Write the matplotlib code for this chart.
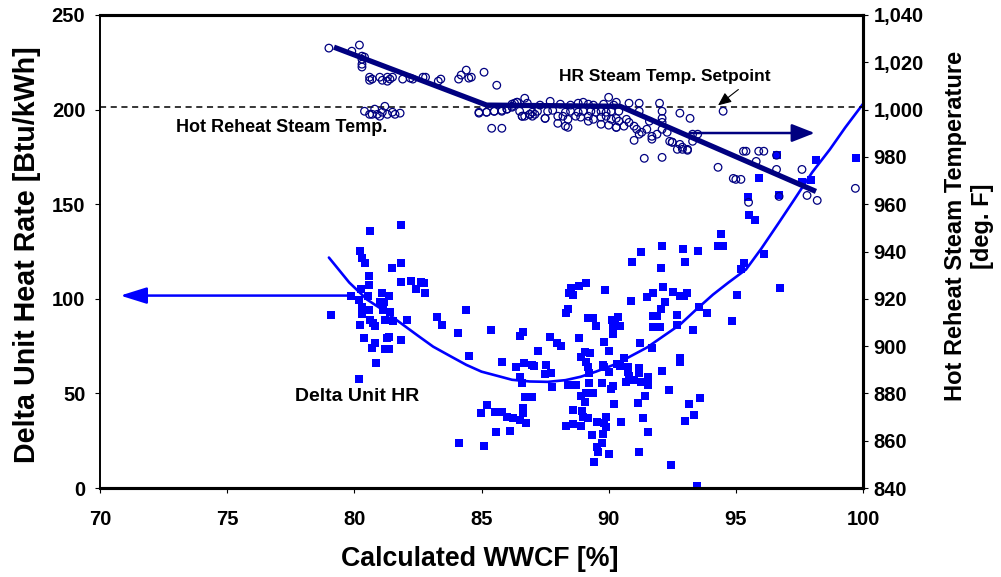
import matplotlib
matplotlib.use("Agg")
import matplotlib.pyplot as plt
from matplotlib.ticker import FuncFormatter

plt.rcParams['font.family'] = ['Liberation Sans', 'DejaVu Sans']
plt.rcParams['font.weight'] = 'bold'

# Delta unit heat rate samples: WWCF [%] vs delta HR [Btu/kWh]
hr_wwcf = [
    81.84, 80.62, 80.22, 80.30, 80.42, 81.84, 81.48, 80.58, 80.58, 81.84, 82.23, 82.62,
    82.74, 82.42, 82.78, 80.26, 79.87, 80.18, 80.54, 81.09, 81.36, 81.01, 81.17, 80.30,
    80.58, 81.13, 81.40, 80.30, 79.08, 81.21, 81.52, 82.07, 80.62, 80.73, 80.81, 80.22,
    83.25, 83.45, 84.39, 84.08, 80.38, 81.36, 81.28, 81.84, 80.81, 80.70, 81.21, 81.36,
    80.85, 84.51, 80.18, 84.12,
    92.10, 91.27, 92.92, 93.51, 94.30, 90.92, 93.00, 92.06, 89.11, 88.83, 88.52, 88.44,
    88.60, 89.86, 92.14, 92.53, 92.81, 92.96, 93.08, 91.74, 91.51, 90.88, 92.22, 92.06,
    88.40, 88.32, 89.19, 89.38, 91.74, 91.90, 89.50, 90.13, 90.25, 90.37, 90.17, 90.45,
    92.69, 91.74, 92.02, 92.69, 93.87, 93.32, 85.37, 86.63, 86.51, 87.69, 88.83, 90.17,
    87.97, 88.13, 89.82, 91.23, 87.22, 89.07, 89.27, 90.01, 91.70, 88.91, 85.81, 92.81,
    92.81, 86.36, 86.67, 86.99, 87.06, 87.54, 89.11, 89.19, 89.78, 89.82, 90.33, 90.45,
    90.60, 90.76, 90.76, 91.19, 91.19, 91.55, 86.51, 87.50, 87.73, 89.23, 90.01, 90.80,
    91.00, 90.68, 91.27, 91.55, 92.10, 86.59, 87.77, 88.40, 88.72, 89.23, 89.74, 90.09,
    90.17, 86.71, 86.99, 88.91, 89.11, 89.38, 89.07, 91.43, 92.37, 93.59, 93.16, 91.15,
    90.21, 85.22, 85.53, 85.81, 86.00, 86.24, 86.51, 86.63, 86.63, 86.75, 84.98, 88.60,
    88.95, 88.99, 89.19, 89.54, 89.82, 89.90, 89.90, 91.35, 93.36, 93.00, 88.32, 88.60,
    88.91, 90.49, 85.57, 86.12, 89.35, 89.78, 91.55, 85.10, 89.74, 89.54, 89.58, 90.01,
    91.19, 89.42, 92.45, 93.47,
    99.73, 98.15, 96.62, 95.91, 97.96, 97.60, 95.48, 96.70, 95.52, 95.75, 94.42, 94.50,
    96.11, 95.32, 95.20, 96.74, 95.05, 93.55, 94.85,
]
hr_delta = [
    138.8, 135.6, 125.5, 121.8, 118.7, 118.7, 116.5, 111.8, 107.5, 109.1, 109.6, 109.1,
    108.6, 105.4, 103.3, 105.4, 101.7, 99.6, 101.7, 103.3, 101.7, 98.5, 98.5, 95.9,
    94.3, 94.3, 93.2, 92.2, 91.6, 89.0, 88.5, 89.0, 89.0, 87.4, 85.8, 86.3,
    90.6, 86.3, 94.3, 82.1, 79.4, 80.0, 79.4, 78.4, 76.8, 74.2, 73.6, 73.6,
    66.2, 69.9, 57.7, 23.8,
    127.7, 124.5, 126.1, 125.5, 127.7, 119.7, 119.2, 116.5, 108.6, 107.0, 105.9, 103.3,
    102.2, 104.9, 106.5, 103.8, 101.7, 101.7, 103.3, 103.3, 101.2, 99.1, 98.5, 94.8,
    94.8, 92.7, 90.1, 90.1, 91.1, 91.1, 85.8, 89.0, 89.0, 90.6, 85.8, 85.8,
    91.6, 85.3, 85.3, 86.3, 92.7, 83.7, 83.7, 82.6, 80.5, 80.0, 79.5, 81.6,
    76.8, 75.2, 77.3, 76.8, 72.6, 72.0, 71.5, 72.6, 74.2, 69.4, 66.7, 68.9,
    66.7, 64.1, 66.2, 65.2, 64.6, 65.2, 66.7, 64.1, 65.2, 64.1, 65.7, 64.6,
    68.9, 64.1, 61.4, 63.6, 60.9, 58.8, 58.8, 60.4, 60.9, 60.9, 61.4, 59.3,
    57.2, 56.1, 56.1, 54.6, 62.0, 55.6, 53.5, 54.6, 54.6, 55.6, 55.6, 52.4,
    54.0, 48.2, 48.2, 48.7, 50.3, 50.3, 45.6, 48.7, 51.9, 47.7, 44.5, 45.0,
    44.5, 44.0, 40.3, 40.3, 37.6, 37.1, 36.0, 42.4, 39.7, 34.4, 39.7, 41.3,
    40.8, 37.6, 37.1, 35.0, 34.4, 37.6, 32.3, 37.1, 38.7, 35.5, 32.8, 33.9,
    32.8, 35.0, 29.7, 30.2, 28.1, 28.6, 29.7, 22.2, 23.8, 21.7, 19.1, 18.0,
    19.1, 13.8, 12.2, 1.1,
    174.3, 173.2, 175.9, 163.7, 162.6, 161.6, 153.6, 154.7, 144.1, 141.4, 134.0, 127.7,
    123.9, 118.7, 116.0, 105.9, 102.2, 95.9, 88.5,
]

# Trend curve of delta heat rate
fit_wwcf = [79.0, 79.8, 80.5, 81.1, 81.8, 82.5, 83.1, 83.8, 84.4, 85.0, 85.7, 86.2, 86.9,
            87.6, 88.3, 88.9, 89.5, 90.2, 90.8, 91.5, 92.1, 92.8, 93.4, 94.1, 94.7, 95.4,
            96.0, 96.7, 97.3, 98.0, 98.7, 99.3, 100.0]
fit_delta = [121.8, 108.6, 99.6, 94.3, 87.4, 80.5, 74.7, 69.5, 65.1, 61.5, 59.0, 57.2, 56.3,
             56.1, 57.0, 58.8, 61.5, 65.1, 69.2, 74.2, 79.8, 86.3, 93.8, 102.2, 108.5, 115.5,
             126.5, 140.4, 152.5, 166.8, 179.0, 190.5, 203.0]

# Hot reheat steam temperature samples [deg. F]
t_wwcf = [
    79.0, 79.9, 80.2, 80.3, 80.3, 80.3, 80.3, 80.4, 80.6, 80.7, 80.6, 81.0, 81.1, 81.3,
    81.4, 81.5, 81.3, 81.9, 82.2, 82.3, 82.7, 82.8, 83.3, 83.4, 84.1, 84.2, 84.4, 84.5,
    84.6, 85.1, 85.6,
    80.4, 80.6, 80.8, 80.9, 81.1, 81.2, 81.3, 81.5, 81.6, 81.8, 80.7, 81.0,
    84.9, 85.2, 85.5, 85.8, 86.0, 86.2, 86.4, 86.7, 86.6, 86.7, 86.9, 87.1, 85.4, 85.8,
    87.7, 87.5, 88.0, 88.3, 88.4, 89.2, 90.0, 90.3, 90.8, 91.2, 92.0, 92.8, 93.2, 91.2,
    92.1, 92.1, 92.1, 90.3, 91.0, 91.2, 91.4, 92.1, 91.7, 92.5, 92.7, 92.9, 93.1, 93.3,
    94.5, 94.3, 95.3, 95.4, 95.9, 96.1, 95.8, 94.9, 95.0, 95.2, 96.6, 97.6, 95.5, 97.8,
    98.2, 96.7, 99.7, 96.6,
    86.2, 86.3, 86.4, 86.8, 87.3, 88.1, 88.5, 88.8, 89.0, 89.2, 89.4, 89.8, 90.2,
    84.9, 85.2, 85.5, 85.8, 86.0, 86.2, 86.5, 86.9, 87.0, 87.2, 87.6, 87.8, 88.3, 88.5,
    88.8, 89.0, 89.3, 89.5, 89.7, 89.9, 90.1, 90.4,
    86.6, 87.0, 87.5, 88.0, 88.2, 88.4, 88.7, 88.9, 89.2, 89.4, 89.7, 89.9, 90.1, 90.3,
    90.4, 90.7,
    89.7, 90.0, 90.3, 90.6, 90.8, 91.0,
    91.1, 91.3, 91.5, 91.6, 91.7, 91.9, 92.1, 92.3, 92.4, 92.5, 92.8, 92.9, 93.1, 93.3,
    93.5,
]
t_temp = [
    1026.0, 1024.7, 1027.3, 1022.6, 1021.3, 1019.2, 1018.0, 1022.2, 1013.7, 1012.9, 1012.4,
    1013.7, 1012.4, 1013.7, 1012.9, 1013.7, 1012.0, 1012.9, 1013.3, 1012.9, 1013.7, 1013.7,
    1012.0, 1012.9, 1012.9, 1014.6, 1016.7, 1013.3, 1013.7, 1015.8, 1010.3,
    999.3, 998.0, 1000.2, 998.0, 998.9, 1001.4, 998.0, 998.9, 998.0, 998.5, 998.0, 997.2,
    998.5, 998.9, 999.3, 999.7, 1000.2, 1001.4, 1003.1, 1004.8, 997.2, 997.2, 998.0, 998.0,
    992.1, 992.1,
    1003.5, 996.3, 994.2, 993.0, 992.5, 995.1, 1005.2, 1003.1, 1002.7, 1002.7, 1002.7,
    998.5, 996.3, 999.3, 999.3, 996.3, 994.6, 992.5, 987.0, 989.6, 979.4, 979.8, 987.5,
    986.2, 983.2, 983.2, 983.2, 989.6,
    999.3, 975.6, 982.4, 982.4, 982.4, 982.4, 978.1, 970.9, 970.5, 970.5, 974.7, 974.7,
    960.8, 963.7, 961.6, 963.3, 966.7, 980.7,
    1002.3, 1002.7, 1003.1, 1002.7, 1001.9, 1002.3, 1001.9, 1002.7, 1003.1, 1002.3, 1001.9,
    1002.3, 1001.9,
    998.9, 998.9, 999.3, 999.3, 1000.2, 1001.0, 999.3, 998.0, 998.9, 999.3, 999.3, 999.7,
    998.9, 999.3, 998.9, 999.3, 999.3, 998.9, 999.3, 998.9, 999.3, 999.3,
    997.2, 997.2, 996.3, 997.2, 997.2, 995.9, 997.2, 996.8, 997.2, 995.9, 996.8, 997.2,
    995.9, 996.3, 995.1, 995.9,
    993.8, 993.4, 992.5, 993.0, 994.6, 993.0,
    991.7, 990.4, 991.7, 995.1, 988.7, 989.6, 991.7, 990.4, 986.6, 986.2, 985.3, 984.1,
    982.8, 986.6, 989.6,
]

# Piecewise trend of the reheat temperature
trend_wwcf = [79.2, 85.2, 90.45, 98.15]
trend_temp = [1026.4, 1001.9, 1001.4, 965.4]

setpoint_temp = 1001.0

hr_ticks = [0, 50, 100, 150, 200, 250]
temp_ticks = [840, 860, 880, 900, 920, 940, 960, 980, 1000, 1020, 1040]
wwcf_ticks = [70, 75, 80, 85, 90, 95, 100]

BLUE = '#0000FF'
NAVY = '#000080'

fig = plt.figure(figsize=(10.01, 5.77), dpi=100)
ax = fig.add_axes([100 / 1001, 1 - 488 / 577, 763 / 1001, 473 / 577])
ax2 = ax.twinx()

ax.set_xlim(70, 100)
ax.set_ylim(0, 250)
ax2.set_ylim(840, 1040)

# Delta HR data and trend curve
ax.scatter(hr_wwcf, hr_delta, marker='s', s=26, color=BLUE, linewidths=0, zorder=3)
ax.plot(fit_wwcf, fit_delta, color=BLUE, lw=1.9, zorder=4, solid_capstyle='round')

# Temperature data, trend and set point
ax2.scatter(t_wwcf, t_temp, marker='o', s=30, facecolors='none', edgecolors=NAVY,
            linewidths=0.9, zorder=3)
ax2.plot(trend_wwcf, trend_temp, color=NAVY, lw=3.8, zorder=4, solid_capstyle='butt')
ax2.axhline(setpoint_temp, color='black', lw=1.1, ls=(0, (4, 3)), zorder=2)

# Axis pointers
ax.annotate('', xy=(70.8, 101.7), xytext=(79.8, 101.7),
            arrowprops=dict(arrowstyle='-|>,head_length=1.6,head_width=0.5', color=BLUE,
                            lw=1.8, mutation_scale=10, shrinkA=0, shrinkB=0), zorder=5)
ax2.annotate('', xy=(98.1, 990.1), xytext=(93.2, 990.1),
            arrowprops=dict(arrowstyle='-|>,head_length=1.4,head_width=0.55', color=NAVY,
                            lw=1.8, mutation_scale=10, shrinkA=0, shrinkB=0), zorder=5)
ax2.annotate('', xy=(94.3, 1001.8), xytext=(95.1, 1008.5),
            arrowprops=dict(arrowstyle='-|>,head_length=0.8,head_width=0.35', color='black',
                            lw=0.8, mutation_scale=10, shrinkA=0, shrinkB=0), zorder=5)

ax2.text(92.2, 1014.2, 'HR Steam Temp. Setpoint', fontsize=12.5, fontweight='bold',
         ha='center', va='center', zorder=6)
ax2.text(73.0, 992.6, 'Hot Reheat Steam Temp.', fontsize=13, fontweight='bold',
         ha='left', va='center', zorder=6)
ax.text(80.1, 48.2, 'Delta Unit HR', fontsize=14, fontweight='bold',
        ha='center', va='center', zorder=6)

# Axes styling
for a in (ax, ax2):
    for side in ('top', 'bottom', 'right'):
        a.spines[side].set_linewidth(2.2)
    a.spines['left'].set_linewidth(1.2)

ax.set_xticks(wwcf_ticks)
ax.set_yticks(hr_ticks)
ax2.set_yticks(temp_ticks)
ax2.yaxis.set_major_formatter(FuncFormatter(lambda v, p: f'{int(v):,}'))

ax.tick_params(axis='x', direction='out', length=3.6, width=0.8, pad=12, labelsize=14.5)
ax.tick_params(axis='y', direction='out', length=3.6, width=0.8, pad=7, labelsize=14.5)
ax2.tick_params(axis='y', direction='out', length=3.6, width=0.8, pad=4, labelsize=14.5)
for lab in ax.get_xticklabels() + ax.get_yticklabels() + ax2.get_yticklabels():
    lab.set_fontweight('bold')

fig.text(480 / 1001, 1 - 559 / 577, 'Calculated WWCF [%]', fontsize=19.3, fontweight='bold',
         ha='center', va='center')
fig.text(27 / 1001, 1 - 255 / 577, 'Delta Unit Heat Rate [Btu/kWh]', fontsize=20.6,
         fontweight='bold', rotation=90, ha='center', va='center')
fig.text(969 / 1001, 1 - 226 / 577, 'Hot Reheat Steam Temperature\n[deg. F]', fontsize=17,
         fontweight='bold', rotation=90, ha='center', va='center', multialignment='center',
         linespacing=1.25)

fig.savefig('out.png', dpi=100)
